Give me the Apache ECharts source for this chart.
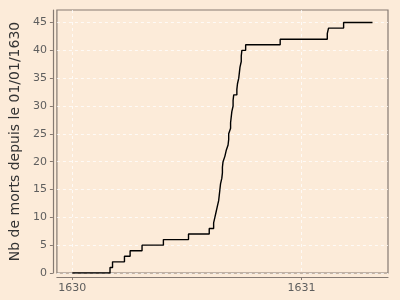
<!DOCTYPE html>
<html>
<head>
<meta charset="utf-8">
<script src="https://cdn.jsdelivr.net/npm/echarts@6/dist/echarts.min.js"></script>
<style>
html,body{margin:0;padding:0;background:#fcebd9;}
#c{width:400px;height:300px;}
</style>
</head>
<body>
<div id="c"></div>
<script>
// Days since 1630-01-01 of each death (cumulative count increases by 1 at each)
var deathDays = [60,64,83,92,111,145,185,218,225,227,229,231,233,234,235,236,238,239,239,240,243,245,248,249,249,252,252,253,254,256,256,257,262,263,265,266,267,269,269,270,276,331,406,408,432];
var lastDay = 478;
var xTickDays = [0, 365];
var xTickLabels = ["1630", "1631"];
var yTicks = [0,5,10,15,20,25,30,35,40,45];

var pts = [[0, 0]];
for (var i = 0; i < deathDays.length; i++) pts.push([deathDays[i], i + 1]);
pts.push([lastDay, deathDays.length]);

var axisColor = '#857a72';
var labelColor = '#5e5e5e';
var chart = echarts.init(document.getElementById('c'), null, {renderer: 'canvas'});
chart.setOption({
  backgroundColor: '#fcebd9',
  animation: false,
  grid: {left: 56, right: 12, top: 10, bottom: 27, show: true, borderColor: axisColor, borderWidth: 1.2, backgroundColor: '#fcebd9'},
  xAxis: {
    type: 'value', min: -24.6, max: 502.7, offset: 4,
    axisLine: {show: true, onZero: false, lineStyle: {color: axisColor, width: 1.2}},
    axisTick: {show: true, length: 3, customValues: xTickDays, lineStyle: {color: axisColor}},
    axisLabel: {customValues: xTickDays, margin: 6, color: labelColor, fontFamily: 'DejaVu Sans', fontSize: 11,
      formatter: function (v) { var k = xTickDays.indexOf(v); return k >= 0 ? xTickLabels[k] : ''; }},
    splitLine: {show: true, lineStyle: {color: 'rgba(255,255,255,0.75)', type: [3, 3], width: 1}}
  },
  yAxis: {
    type: 'value', min: 0, max: 47.25, offset: 4,
    name: 'Nb de morts depuis le 01/01/1630', nameLocation: 'middle', nameGap: 20,
    nameTextStyle: {color: '#333333', fontFamily: 'DejaVu Sans', fontSize: 14},
    axisLine: {show: true, onZero: false, lineStyle: {color: axisColor, width: 1.2}},
    axisTick: {show: true, length: 3, customValues: yTicks, lineStyle: {color: axisColor}},
    axisLabel: {customValues: yTicks, margin: 6, color: labelColor, fontFamily: 'DejaVu Sans', fontSize: 11},
    splitLine: {show: true, lineStyle: {color: 'rgba(255,255,255,0.75)', type: [3, 3], width: 1}}
  },
  series: [{
    type: 'line', step: 'end', data: pts, showSymbol: false, symbol: 'none',
    lineStyle: {color: '#000000', width: 1.4}
  }]
});
</script>
</body>
</html>
